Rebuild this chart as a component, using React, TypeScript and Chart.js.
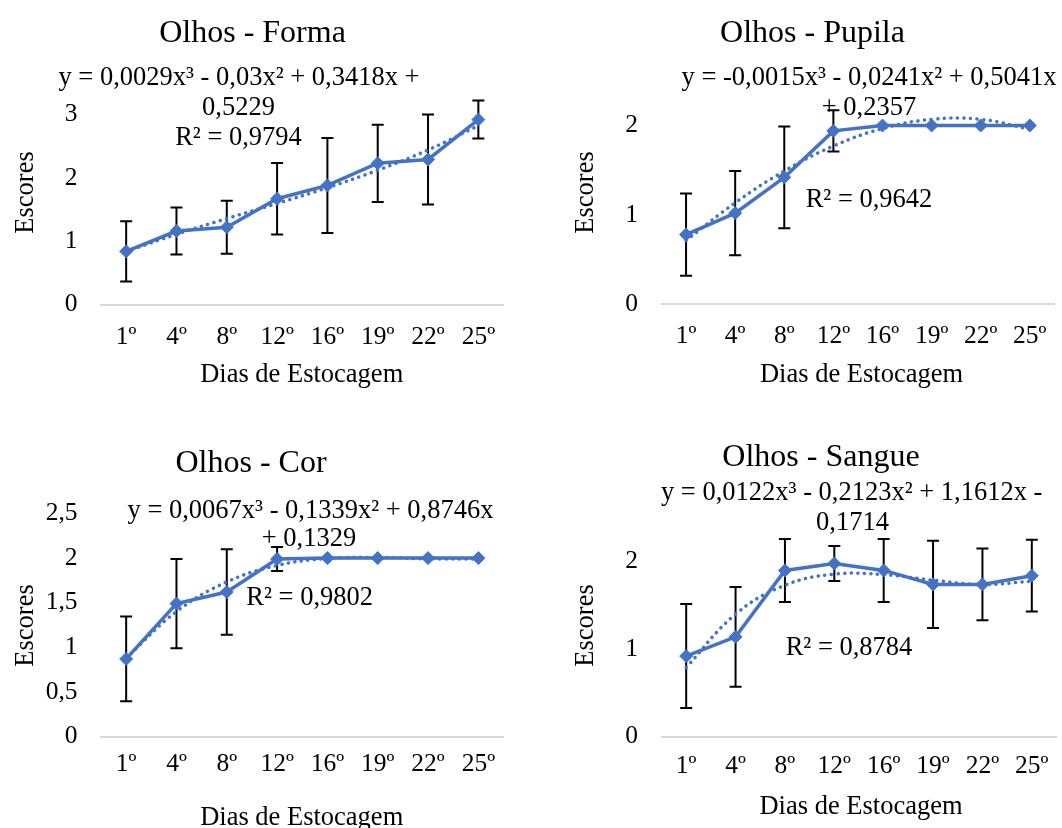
import React, { useEffect, useRef } from "react";
import { Chart, registerables } from "chart.js";

Chart.register(...registerables);

// ---------- DATA ----------
const categories = ["1º", "4º", "8º", "12º", "16º", "19º", "22º", "25º"];

const formaValues = [0.84, 1.16, 1.22, 1.67, 1.88, 2.23, 2.29, 2.92];
const formaErrors = [0.475, 0.37, 0.42, 0.565, 0.75, 0.61, 0.71, 0.3];
const formaTrend = [0.8376, 1.1097, 1.3566, 1.5957, 1.8444, 2.1201, 2.4402, 2.8221];
const formaTicks = [0, 1, 2, 3];

const pupilaValues = [0.78, 1.02, 1.42, 1.94, 2, 2, 2, 2];
const pupilaErrors = [0.46, 0.47, 0.57, 0.23, 0, 0, 0, 0];
const pupilaTrend = [0.7142, 1.1355, 1.4906, 1.7705, 1.9662, 2.0687, 2.069, 1.9581];
const pupilaTicks = [0, 1, 2];

const corValues = [0.87, 1.49, 1.62, 1.99, 2, 2, 2, 2];
const corErrors = [0.475, 0.5, 0.48, 0.135, 0, 0, 0, 0];
const corTrend = [0.8803, 1.4001, 1.7325, 1.9177, 1.9959, 2.0073, 1.9921, 1.9905];
const corTicks = [0, 0.5, 1, 1.5, 2, 2.5];

const sangueValues = [0.92, 1.14, 1.9, 1.98, 1.9, 1.74, 1.74, 1.84];
const sangueErrors = [0.595, 0.57, 0.36, 0.2, 0.36, 0.5, 0.41, 0.41];
const sangueTrend = [0.7897, 1.3994, 1.7309, 1.8574, 1.8521, 1.7882, 1.7389, 1.7774];
const sangueTicks = [0, 1, 2];

const titles = ["Olhos - Forma", "Olhos - Pupila", "Olhos - Cor", "Olhos - Sangue"];
const equationLines = [
  ["y = 0,0029x³ - 0,03x² + 0,3418x +", "0,5229"],
  ["y = -0,0015x³ - 0,0241x² + 0,5041x", "+ 0,2357"],
  ["y = 0,0067x³ - 0,1339x² + 0,8746x", "+ 0,1329"],
  ["y = 0,0122x³ - 0,2123x² + 1,1612x -", "0,1714"],
];
const r2Labels = ["R² = 0,9794", "R² = 0,9642", "R² = 0,9802", "R² = 0,8784"];
const yAxisTitle = "Escores";
const xAxisTitle = "Dias de Estocagem";

// ---------- STYLE / LAYOUT ----------
const FONT = "'Liberation Serif', 'Times New Roman', serif";
const BLUE = "#4472C4";
const TICK_SIZE = 25.5;

type Layout = {
  left: number; top: number; width: number; height: number;
  areaLeft: number; areaRight: number; areaTop: number; areaBottom: number;
  xPad: number;
  title: [number, number];
  eq1: [number, number];
  eq2: [number, number];
  r2: [number, number];
  yTitle: [number, number];
  xTitle: [number, number];
};

const layouts: Layout[] = [
  {
    left: 0, top: 0, width: 531, height: 414,
    areaLeft: 101, areaRight: 503.5, areaTop: 114.5, areaBottom: 304.5,
    xPad: 17,
    title: [252.5, 41.7], eq1: [239, 85], eq2: [238.5, 114.5], r2: [238.5, 145],
    yTitle: [33, 192.5], xTitle: [301.7, 381.5],
  },
  {
    left: 531, top: 0, width: 533, height: 414,
    areaLeft: 661.5, areaRight: 1064, areaTop: 125.5, areaBottom: 304.3,
    xPad: 17,
    title: [812.5, 41.7], eq1: [869, 85], eq2: [869, 114.5], r2: [869, 206.7],
    yTitle: [593, 192.5], xTitle: [861.5, 382],
  },
  {
    left: 0, top: 414, width: 531, height: 414,
    areaLeft: 101, areaRight: 503.5, areaTop: 513.5, areaBottom: 736.5,
    xPad: 12,
    title: [251, 472.3], eq1: [310.5, 518], eq2: [309, 545.5], r2: [309.7, 605],
    yTitle: [33, 625.5], xTitle: [301.7, 825],
  },
  {
    left: 531, top: 414, width: 533, height: 414,
    areaLeft: 661.5, areaRight: 1064, areaTop: 561.7, areaBottom: 736.5,
    xPad: 14,
    title: [821, 466], eq1: [851.7, 500], eq2: [852.5, 530], r2: [849, 655],
    yTitle: [593, 625.5], xTitle: [861, 814],
  },
];

const panelData = [
  { values: formaValues, errors: formaErrors, trend: formaTrend, ticks: formaTicks },
  { values: pupilaValues, errors: pupilaErrors, trend: pupilaTrend, ticks: pupilaTicks },
  { values: corValues, errors: corErrors, trend: corTrend, ticks: corTicks },
  { values: sangueValues, errors: sangueErrors, trend: sangueTrend, ticks: sangueTicks },
];

function Panel({ index }: { index: number }) {
  const ref = useRef<HTMLCanvasElement | null>(null);
  const L = layouts[index];
  const D = panelData[index];

  useEffect(() => {
    if (!ref.current) return;
    const ox = L.left;
    const oy = L.top;
    const tickMax = D.ticks[D.ticks.length - 1];
    const step = D.ticks[1] - D.ticks[0];

    const overlay = {
      id: "overlay" + index,
      beforeDatasetsDraw(chart: any) {
        const ctx = chart.ctx;
        const xs = chart.scales.x;
        const ys = chart.scales.y;
        ctx.save();
        ctx.strokeStyle = "#000";
        ctx.lineWidth = 2;
        D.values.forEach((v, i) => {
          const e = D.errors[i];
          if (!e) return;
          const x = xs.getPixelForValue(i);
          const y1 = ys.getPixelForValue(v + e);
          const y2 = ys.getPixelForValue(v - e);
          ctx.beginPath();
          ctx.moveTo(x, y1);
          ctx.lineTo(x, y2);
          ctx.moveTo(x - 6, y1);
          ctx.lineTo(x + 6, y1);
          ctx.moveTo(x - 6, y2);
          ctx.lineTo(x + 6, y2);
          ctx.stroke();
        });
        ctx.restore();
      },
      afterDraw(chart: any) {
        const ctx = chart.ctx;
        ctx.save();
        ctx.fillStyle = "#000";
        ctx.textAlign = "center";
        ctx.textBaseline = "alphabetic";
        ctx.font = `32px ${FONT}`;
        ctx.fillText(titles[index], L.title[0] - ox, L.title[1] - oy);
        ctx.font = `26.5px ${FONT}`;
        ctx.fillText(equationLines[index][0], L.eq1[0] - ox, L.eq1[1] - oy);
        ctx.fillText(equationLines[index][1], L.eq2[0] - ox, L.eq2[1] - oy);
        ctx.fillText(r2Labels[index], L.r2[0] - ox, L.r2[1] - oy);
        ctx.fillText(xAxisTitle, L.xTitle[0] - ox, L.xTitle[1] - oy);
        ctx.translate(L.yTitle[0] - ox, L.yTitle[1] - oy);
        ctx.rotate(-Math.PI / 2);
        ctx.fillText(yAxisTitle, 0, 0);
        ctx.restore();
      },
    };

    const chart = new Chart(ref.current, {
      type: "line",
      data: {
        labels: categories,
        datasets: [
          {
            data: D.values,
            borderColor: BLUE,
            backgroundColor: BLUE,
            borderWidth: 3.5,
            pointStyle: "rectRot",
            pointRadius: 6.5,
            pointBorderWidth: 1,
            pointBorderColor: BLUE,
            pointBackgroundColor: BLUE,
            tension: 0,
            clip: false,
          } as any,
          {
            data: D.trend,
            borderColor: BLUE,
            borderWidth: 3.5,
            borderDash: [0.1, 6.5],
            borderCapStyle: "round",
            pointRadius: 0,
            tension: 0.4,
            clip: false,
          } as any,
        ],
      },
      options: {
        responsive: false,
        animation: false,
        events: [],
        layout: {
          padding: {
            left: 0,
            right: L.left + L.width - L.areaRight,
            top: L.areaTop - L.top,
            bottom: 0,
          },
        },
        plugins: {
          legend: { display: false },
          tooltip: { enabled: false },
          title: { display: false },
        },
        scales: {
          x: {
            type: "category",
            offset: true,
            grid: { display: true, drawOnChartArea: false, drawTicks: false },
            border: { display: true, color: "#d9d9d9", width: 2 },
            ticks: {
              color: "#000",
              font: { family: FONT, size: TICK_SIZE },
              padding: L.xPad,
              maxRotation: 0,
              autoSkip: false,
            },
            afterFit: (s: any) => {
              s.height = L.top + L.height - L.areaBottom;
            },
          },
          y: {
            min: 0,
            max: tickMax,
            grid: { display: false, drawTicks: false },
            border: { display: false },
            ticks: {
              stepSize: step,
              color: "#000",
              font: { family: FONT, size: TICK_SIZE },
              padding: 23.5,
              callback: (v: any) => String(v).replace(".", ","),
            },
            afterFit: (s: any) => {
              s.width = L.areaLeft - L.left;
            },
          },
        },
      } as any,
      plugins: [overlay],
    });
    return () => chart.destroy();
  }, [index]);

  return (
    <canvas
      ref={ref}
      width={L.width}
      height={L.height}
      style={{ position: "absolute", left: L.left, top: L.top, width: L.width, height: L.height }}
    />
  );
}

export default function App() {
  return (
    <div
      style={{
        position: "absolute",
        left: 0,
        top: 0,
        width: 1062,
        height: 828,
        overflow: "hidden",
        background: "#fff",
      }}
    >
      {[0, 1, 2, 3].map((i) => (
        <Panel key={i} index={i} />
      ))}
    </div>
  );
}
